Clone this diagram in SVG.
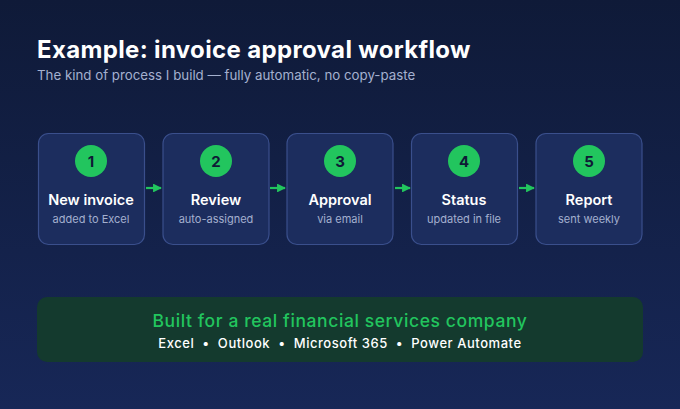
<svg xmlns="http://www.w3.org/2000/svg" width="680" height="409" viewBox="0 0 680 409">
<defs>
<linearGradient id="bg" x1="0" y1="0" x2="0" y2="1">
<stop offset="0" stop-color="#0f1a38"/>
<stop offset="1" stop-color="#172757"/>
</linearGradient>
<marker id="ah" viewBox="0 0 10 10" refX="9" refY="5" markerWidth="4" markerHeight="4" orient="auto" markerUnits="strokeWidth">
<path d="M0,0 L10,5 L0,10 z" fill="#22c55e"/>
</marker>
<style>
.box{fill:#1c2d5e;stroke:#3a4f8c;stroke-width:1.2}
.num{fill:#22c55e}
.n{font-family:Inter,"Noto Sans",sans-serif;font-weight:700;font-size:15px;fill:#0f1a36;text-anchor:middle}
.t{font-family:Inter,"Noto Sans",sans-serif;font-weight:600;font-size:14.5px;fill:#ffffff;text-anchor:middle}
.s{font-family:Inter,"Noto Sans",sans-serif;font-size:11px;fill:#a4b0cf;text-anchor:middle}
.c{stroke:#22c55e;stroke-width:2.2;fill:none;marker-end:url(#ah)}
</style>
</defs>
<rect width="680" height="409" fill="url(#bg)"/>
<text x="37" y="58" font-family="Inter,'Noto Sans',sans-serif" font-weight="700" font-size="24" letter-spacing="0.35" fill="#ffffff">Example: invoice approval workflow</text>
<text x="37" y="80" font-family="Inter,'Noto Sans',sans-serif" font-size="13.3" fill="#a4b0cf">The kind of process I build — fully automatic, no copy-paste</text>
<g id="n1"><rect class="box" x="38.5" y="133.5" width="106" height="111" rx="10"/><circle class="num" cx="91" cy="161" r="16"/><text class="n" x="91" y="166.5">1</text><text class="t" x="91" y="205">New invoice</text><text class="s" x="91" y="223">added to Excel</text></g>
<g id="n2"><rect class="box" x="163" y="133.5" width="106" height="111" rx="10"/><circle class="num" cx="216" cy="161" r="16"/><text class="n" x="216" y="166.5">2</text><text class="t" x="216" y="205">Review</text><text class="s" x="216" y="223">auto-assigned</text></g>
<g id="n3"><rect class="box" x="287" y="133.5" width="106" height="111" rx="10"/><circle class="num" cx="340" cy="161" r="16"/><text class="n" x="340" y="166.5">3</text><text class="t" x="340" y="205">Approval</text><text class="s" x="340" y="223">via email</text></g>
<g id="n4"><rect class="box" x="411.5" y="133.5" width="106" height="111" rx="10"/><circle class="num" cx="464" cy="161" r="16"/><text class="n" x="464" y="166.5">4</text><text class="t" x="464" y="205">Status</text><text class="s" x="464" y="223">updated in file</text></g>
<g id="n5"><rect class="box" x="536" y="133.5" width="106" height="111" rx="10"/><circle class="num" cx="589" cy="161" r="16"/><text class="n" x="589" y="166.5">5</text><text class="t" x="589" y="205">Report</text><text class="s" x="589" y="223">sent weekly</text></g>
<g id="connectors">
<line class="c" x1="146" y1="188" x2="161" y2="188"/>
<line class="c" x1="270" y1="188" x2="285" y2="188"/>
<line class="c" x1="395" y1="188" x2="410" y2="188"/>
<line class="c" x1="519" y1="188" x2="534" y2="188"/>
</g>
<g id="banner">
<rect x="37" y="297" width="606" height="65" rx="10" fill="#143a2e"/>
<text x="340" y="327" font-family="Inter,'Noto Sans',sans-serif" font-weight="500" font-size="17.5" letter-spacing="0.6" fill="#22c55e" text-anchor="middle">Built for a real financial services company</text>
<text x="340" y="348" xml:space="preserve" style="white-space:pre" font-family="Inter,'Noto Sans',sans-serif" font-weight="500" font-size="13" letter-spacing="0.55" fill="#ffffff" text-anchor="middle">Excel  •  Outlook  •  Microsoft 365  •  Power Automate</text>
</g>
</svg>
